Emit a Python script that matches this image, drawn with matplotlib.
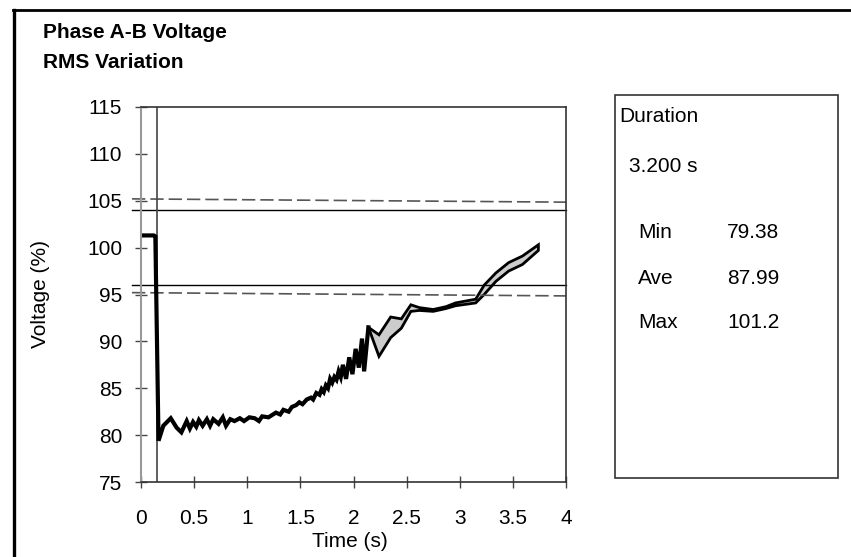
import matplotlib
matplotlib.use("Agg")
import matplotlib.pyplot as plt
from matplotlib.patches import Rectangle
from matplotlib.lines import Line2D

plt.rcParams['font.family'] = ['Liberation Sans', 'DejaVu Sans']

# single trace: pre-event level, sag and noisy recovery
t_main = [0.0, 0.12, 0.135, 0.165, 0.21, 0.28, 0.335, 0.38, 0.43, 0.46, 0.49, 0.52,
          0.545, 0.58, 0.62, 0.65, 0.68, 0.73, 0.77, 0.80, 0.84, 0.88, 0.93, 0.97,
          1.02, 1.07, 1.11, 1.14, 1.20, 1.27, 1.31, 1.34, 1.39, 1.42, 1.46, 1.49,
          1.52, 1.56, 1.60, 1.62, 1.65, 1.68, 1.70, 1.72, 1.74, 1.76, 1.78, 1.80,
          1.82, 1.84, 1.86, 1.88, 1.90, 1.93, 1.96, 1.99, 2.02, 2.05, 2.08, 2.10, 2.14]
v_main = [101.3, 101.3, 101.2, 79.4, 81.0, 81.8, 80.8, 80.3, 81.5, 80.7, 81.4, 80.9,
          81.6, 81.0, 81.7, 81.0, 81.7, 81.2, 81.9, 81.0, 81.7, 81.5, 81.8, 81.5,
          81.9, 81.8, 81.5, 82.0, 81.9, 82.4, 82.2, 82.7, 82.5, 83.0, 83.2, 83.5,
          83.3, 83.8, 84.0, 83.8, 84.5, 84.3, 84.9, 84.6, 85.3, 85.0, 86.0, 85.6,
          86.2, 85.9, 86.8, 86.2, 87.5, 86.0, 88.3, 86.5, 89.2, 87.2, 90.3, 86.8, 91.5]

# max / min envelope after the peak
t_env = [2.14, 2.24, 2.35, 2.45, 2.54, 2.62, 2.75, 2.87, 2.96, 3.15, 3.23, 3.34, 3.46, 3.59, 3.74]
v_env_hi = [91.5, 90.7, 92.6, 92.4, 93.9, 93.6, 93.4, 93.7, 94.1, 94.5, 96.0, 97.3, 98.4, 99.1, 100.3]
v_env_lo = [91.5, 88.4, 90.4, 91.4, 93.2, 93.3, 93.2, 93.5, 93.8, 94.1, 95.0, 96.4, 97.5, 98.2, 99.7]

limit_solid = [104, 96]
limit_t = [-0.085, 4.0]
limit_dash_hi = [105.2, 104.85]
limit_dash_lo = [95.2, 94.85]
event_start = 0.155

x_ticks = [0, 0.5, 1, 1.5, 2, 2.5, 3, 3.5, 4]
x_labels = ['0', '0.5', '1', '1.5', '2', '2.5', '3', '3.5', '4']
y_ticks = [75, 80, 85, 90, 95, 100, 105, 110, 115]

stat_names = ['Min', 'Ave', 'Max']
stat_values = ['79.38', '87.99', '101.2']
duration = '3.200 s'

FS = 15
W, H = 851, 557
fig = plt.figure(figsize=(W / 100, H / 100), dpi=100)

def fx(px):
    return px / W

def fy(py):
    return 1 - py / H

# outer frame (clipped on the right and bottom)
fig.add_artist(Line2D([fx(14), fx(14)], [fy(10), fy(560)], color='black', lw=2.4))
fig.add_artist(Line2D([fx(13), fx(855)], [fy(10), fy(10)], color='black', lw=2.0))

fig.text(fx(43), fy(33), 'Phase A-B Voltage', fontsize=FS, fontweight='bold', va='center')
fig.text(fx(43), fy(63), 'RMS Variation', fontsize=FS, fontweight='bold', va='center')

ax = fig.add_axes([fx(141), fy(482), (566 - 141) / W, (482 - 107) / H])
ax.set_xlim(0, 4)
ax.set_ylim(75, 115)

for lvl in limit_solid:
    ax.plot(limit_t, [lvl, lvl], color='black', lw=1.0, clip_on=False)
ax.plot(limit_t, limit_dash_hi, color='#555555', lw=1.2, dashes=(8, 3), clip_on=False)
ax.plot(limit_t, limit_dash_lo, color='#555555', lw=1.2, dashes=(8, 3), clip_on=False)

ax.axvline(event_start, color='#444444', lw=1.2)

ax.plot(t_main, v_main, color='black', lw=3.0, solid_joinstyle='miter')
ax.fill(t_env + t_env[::-1], v_env_hi + v_env_lo[::-1], facecolor='#cccccc',
        edgecolor='black', lw=2.0)

ax.set_xticks(x_ticks)
ax.set_xticklabels(x_labels)
ax.set_yticks(y_ticks)
ax.tick_params(direction='inout', length=9, width=1, color='#444444', labelsize=FS)
ax.tick_params(axis='x', pad=15)
ax.tick_params(axis='y', pad=9)

for side in ['top', 'right', 'bottom']:
    ax.spines[side].set_color('#333333')
    ax.spines[side].set_linewidth(1.2)
ax.spines['left'].set_color('#999999')
ax.spines['left'].set_linewidth(1.5)

ax.set_xlabel('Time (s)', fontsize=FS)
ax.set_ylabel('Voltage (%)', fontsize=FS)
ax.xaxis.set_label_coords((350 - 141) / 425, (482 - 532) / 375)
ax.yaxis.set_label_coords((50 - 141) / 425, 0.5)

# statistics box
fig.add_artist(Rectangle((fx(615), fy(478)), (838 - 615) / W, (478 - 95) / H,
                         transform=fig.transFigure, fill=False, edgecolor='#333333', lw=1.2))
fig.text(fx(619), fy(117), 'Duration', fontsize=FS, va='center')
fig.text(fx(629), fy(166), duration, fontsize=FS, va='center')
for i, (name, val) in enumerate(zip(stat_names, stat_values)):
    y = 233 + i * 45
    fig.text(fx(638), fy(y), name, fontsize=FS, va='center')
    fig.text(fx(727), fy(y), val, fontsize=FS, va='center')

fig.savefig('out.png', dpi=100)
